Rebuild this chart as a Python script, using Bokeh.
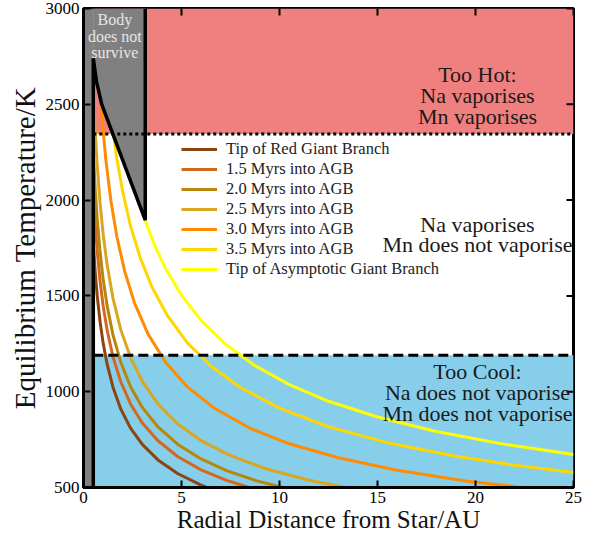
from bokeh.plotting import figure
from bokeh.models import Range1d, Legend, LegendItem, Label, FixedTicker
from bokeh.embed import file_html
from bokeh.resources import INLINE

# ---------------- data ----------------
series_names = ["Tip of Red Giant Branch", "1.5 Myrs into AGB", "2.0 Myrs into AGB",
                "2.5 Myrs into AGB", "3.0 Myrs into AGB", "3.5 Myrs into AGB",
                "Tip of Asymptotic Giant Branch"]

rgb_tip_r = [0.5, 0.6, 0.7, 0.85, 1.0, 1.2, 1.5, 1.9, 2.4, 3.0, 3.8, 4.8, 6.0, 6.6]
rgb_tip_T = [1775, 1620, 1500, 1361, 1255, 1146, 1025, 910, 810, 725, 644, 573, 512, 489]

agb15_r = [0.5, 0.6, 0.7, 0.85, 1.0, 1.2, 1.5, 1.9, 2.4, 3.0, 3.8, 4.8, 6.0, 7.3, 8.8]
agb15_T = [2051, 1872, 1733, 1573, 1450, 1324, 1184, 1052, 936, 837, 744, 662, 592, 537, 489]

agb20_r = [0.5, 0.6, 0.7, 0.85, 1.0, 1.2, 1.5, 1.9, 2.4, 3.0, 3.8, 4.8, 6.0, 7.3, 8.8, 10.5]
agb20_T = [2249, 2053, 1900, 1725, 1590, 1452, 1298, 1154, 1026, 918, 816, 726, 649, 588, 536, 491]

agb25_r = [0.5, 0.6, 0.7, 0.85, 1.0, 1.2, 1.5, 1.9, 2.4, 3.0, 3.8, 4.8, 6.0, 7.5, 9.3, 11.5, 14.0]
agb25_T = [2581, 2356, 2181, 1979, 1825, 1666, 1490, 1324, 1178, 1054, 936, 833, 745, 666, 598, 538, 488]

agb30_r = [0.8, 0.95, 1.15, 1.4, 1.7, 2.1, 2.6, 3.3, 4.2, 5.3, 6.7, 8.5, 10.5, 13.0, 16.0, 19.5, 23.5]
agb30_T = [2639, 2421, 2201, 1995, 1810, 1629, 1464, 1299, 1152, 1025, 912, 809, 728, 655, 590, 534, 487]

agb35_r = [1.4, 1.7, 2.0, 2.4, 2.9, 3.5, 4.3, 5.3, 6.5, 8.0, 10.0, 12.5, 15.5, 19.0, 22.0, 25.0]
agb35_T = [2443, 2217, 2044, 1865, 1697, 1545, 1394, 1255, 1134, 1022, 914, 817, 734, 663, 616, 578]

agb_tip_r = [3.15, 3.6, 4.2, 5.0, 6.0, 7.2, 8.7, 10.5, 12.5, 15.0, 18.0, 21.5, 25.0]
agb_tip_T = [1893, 1771, 1640, 1503, 1372, 1252, 1139, 1037, 950, 868, 792, 725, 672]

# survival boundary (black outline of the grey region)
survive_r = [0.5, 0.5, 0.66, 0.93, 3.15, 3.15]
survive_T = [500, 2740, 2620, 2500, 1895, 3000]

mn_vaporise_T = 2345   # dotted line
na_vaporise_T = 1190   # dashed line

x_ticks = [0, 5, 10, 15, 20, 25]
y_ticks = [500, 1000, 1500, 2000, 2500, 3000]

hot_text = ["Too Hot:", "Na vaporises", "Mn vaporises"]
mid_text = ["Na vaporises", "Mn does not vaporise"]
cool_text = ["Too Cool:", "Na does not vaporise", "Mn does not vaporise"]
body_text = ["Body", "does not", "survive"]

# ---------------- figure ----------------
FONT = "Liberation Serif"
xmin, xmax, ymin, ymax = 0, 25, 500, 3000
W, H = 594, 541
BL, BR, BT, BB = 83, 21, 8, 54

p = figure(width=W, height=H, output_backend="svg", toolbar_location=None,
           x_range=Range1d(xmin, xmax), y_range=Range1d(ymin, ymax),
           min_border_left=BL, min_border_right=BR, min_border_top=BT, min_border_bottom=BB)
p.background_fill_color = "white"
p.border_fill_color = "white"
p.xgrid.visible = False
p.ygrid.visible = False
p.outline_line_color = "black"
p.outline_line_width = 3

p.xaxis.ticker = FixedTicker(ticks=x_ticks)
p.yaxis.ticker = FixedTicker(ticks=y_ticks)
for ax in (p.xaxis[0], p.yaxis[0]):
    ax.axis_line_width = 3
    ax.axis_line_color = "black"
    ax.major_tick_in = 7
    ax.major_tick_out = 0
    ax.major_tick_line_width = 2
    ax.minor_tick_line_color = None
    ax.major_label_text_font = FONT
    ax.major_label_text_color = "black"
    ax.major_label_text_font_size = "17px"
    ax.major_label_standoff = 4
    ax.axis_label_text_font = FONT
    ax.axis_label_text_font_style = "normal"
    ax.axis_label_text_color = "#111111"
    ax.axis_label_standoff = 0
p.xaxis.axis_label = "Radial Distance from Star/AU"
p.yaxis.axis_label = "Equilibrium Temperature/K"
p.xaxis.axis_label_text_font_size = "25px"
p.yaxis.axis_label_text_font_size = "29px"
p.yaxis.axis_label_standoff = 2

# background regions
bound_left = survive_r[0]
p.quad(left=bound_left, right=xmax, bottom=mn_vaporise_T, top=ymax, fill_color="#F08080", line_color=None)
p.quad(left=bound_left, right=xmax, bottom=ymin, top=na_vaporise_T, fill_color="#87CEEB", line_color=None)

# curves
curve_data = [(rgb_tip_r, rgb_tip_T), (agb15_r, agb15_T), (agb20_r, agb20_T), (agb25_r, agb25_T),
              (agb30_r, agb30_T), (agb35_r, agb35_T), (agb_tip_r, agb_tip_T)]
colors = ["#8B4513", "#D2691E", "#B8860B", "#DAA520", "#FF8C00", "#FFD700", "#FFFF00"]
renderers = []
for (rr, TT), c in zip(curve_data, colors):
    renderers.append(p.line(rr, TT, line_color=c, line_width=3))

# grey "does not survive" region on top
p.quad(left=xmin, right=bound_left, bottom=ymin, top=ymax, fill_color="#808080", line_color=None)
poly_x = survive_r[1:] + [survive_r[1]]
poly_y = survive_T[1:] + [ymax]
p.patch(poly_x, poly_y, fill_color="#808080", line_color=None)
p.line(survive_r, survive_T, line_color="black", line_width=3.5)

# thresholds
p.line([bound_left, xmax], [mn_vaporise_T, mn_vaporise_T], line_color="black", line_width=3, line_dash="3 3")
p.line([bound_left, xmax], [na_vaporise_T, na_vaporise_T], line_color="black", line_width=3, line_dash="10 5")

# inward ticks on top and right edges (mirror of the bottom/left ticks)
tick_px = 7
dx = tick_px * (xmax - xmin) / (W - BL - BR)
dy = tick_px * (ymax - ymin) / (H - BT - BB)
p.segment(x0=x_ticks, y0=[ymax] * len(x_ticks), x1=x_ticks, y1=[ymax - dy] * len(x_ticks),
          line_color="black", line_width=2)
p.segment(x0=[xmax] * len(y_ticks), y0=y_ticks, x1=[xmax - dx] * len(y_ticks), y1=y_ticks,
          line_color="black", line_width=2)

# legend
legend = Legend(items=[LegendItem(label=n, renderers=[r]) for n, r in zip(series_names, renderers)],
                location=(98, 208))
legend.label_text_font = FONT
legend.label_text_font_size = "16.5px"
legend.label_text_color = "#222222"
legend.glyph_width = 36
legend.glyph_height = 20
legend.label_height = 20
legend.label_standoff = 9
legend.spacing = 0
legend.padding = 2
legend.margin = 0
legend.border_line_color = None
legend.background_fill_alpha = 0
p.add_layout(legend)

def add_lines(lines, x, ys, size, color="black"):
    for t, y in zip(lines, ys):
        p.add_layout(Label(x=x, y=y, text=t, text_align="center", text_baseline="middle",
                           text_font=FONT, text_font_size=size, text_color=color))

add_lines(hot_text, 20.1, [2657, 2547, 2438], "22px", "#1a1a1a")
add_lines(mid_text, 20.1, [1873, 1768], "22px", "#1a1a1a")
add_lines(cool_text, 20.1, [1104, 994, 884], "22px", "#1a1a1a")
add_lines(body_text, 1.6, [2940, 2856, 2772], "16px", "#e6e6e6")

open("out.html", "w").write(file_html(p, INLINE))
